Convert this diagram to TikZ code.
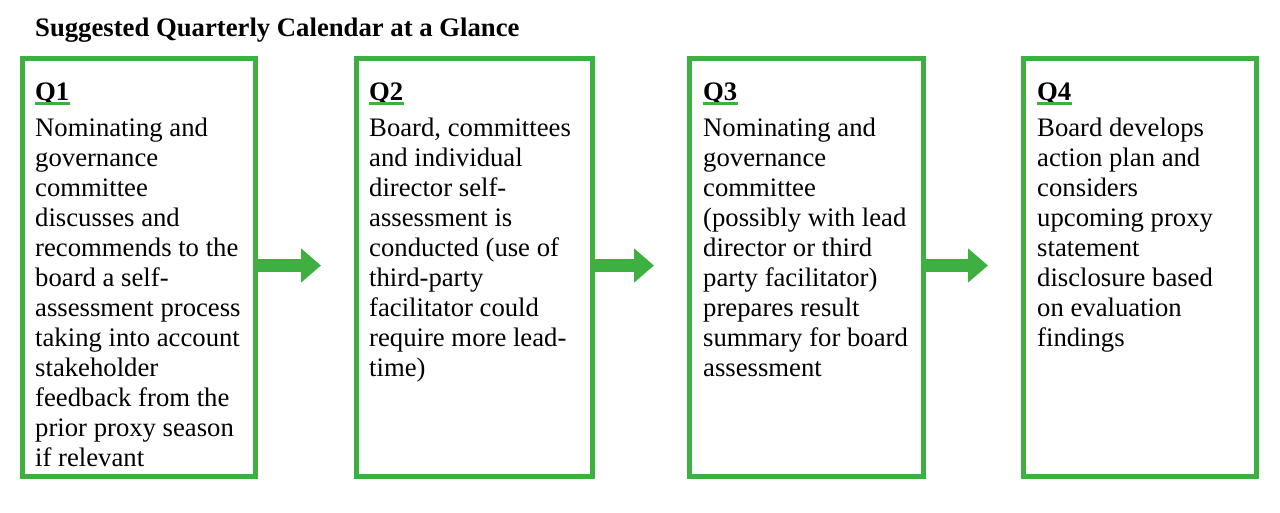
\documentclass[tikz,border=0pt]{standalone}
\usepackage{fontspec}
\setmainfont{Liberation Serif}
\usetikzlibrary{arrows.meta}
\definecolor{qgreen}{RGB}{62,176,65}
\tikzset{
  qbox/.style={draw=qgreen, line width=5pt, minimum height=418pt, inner sep=0pt},
  qhead/.style={anchor=base west, inner sep=0pt, font=\fontsize{26.7}{30}\selectfont\bfseries, text depth=0pt},
  qbody/.style={anchor=north west, inner sep=0pt, align=left, font=\fontsize{26.7}{30}\selectfont},
  qline/.style={draw=qgreen, line width=2.5pt},
  qarrow/.style={draw=qgreen, line width=13pt, shorten >=33pt, -{Triangle[width=33pt,length=20pt,fill=qgreen]}},
}
\begin{document}
\begin{tikzpicture}[x=1pt,y=-1pt]
\useasboundingbox (0,0) rectangle (1280,512);
\node[anchor=base west, inner sep=0pt, font=\fontsize{26.7}{30}\selectfont\bfseries] (title) at (35,36) {Suggested Quarterly Calendar at a Glance};

\node[qbox, minimum width=233pt] (b1) at (139,267.5) {};
\node[qbox, minimum width=236pt] (b2) at (474.5,267.5) {};
\node[qbox, minimum width=234pt] (b3) at (806.5,267.5) {};
\node[qbox, minimum width=233pt] (b4) at (1140,267.5) {};

\node[qhead] (h1) at (35,100) {Q1};
\node[qhead] (h2) at (369,100) {Q2};
\node[qhead] (h3) at (703,100) {Q3};
\node[qhead] (h4) at (1037,100) {Q4};
\foreach \h in {h1,h2,h3,h4}{
  \draw[qline] ([yshift=-3.5pt]\h.base west) -- ([yshift=-3.5pt]\h.base east);
}

\node[qbody] (t1) at (35,117.5) {Nominating and\\governance\\committee\\discusses and\\recommends to the\\board a self-\\assessment process\\taking into account\\stakeholder\\feedback from the\\prior proxy season\\if relevant};
\node[qbody] (t2) at (369,117.5) {Board, committees\\and individual\\director self-\\assessment is\\conducted (use of\\third-party\\facilitator could\\require more lead-\\time)};
\node[qbody] (t3) at (703,117.5) {Nominating and\\governance\\committee\\(possibly with lead\\director or third\\party facilitator)\\prepares result\\summary for board\\assessment};
\node[qbody] (t4) at (1037,117.5) {Board develops\\action plan and\\considers\\upcoming proxy\\statement\\disclosure based\\on evaluation\\findings};

\draw[qarrow] ([yshift=2pt]b1.east) -- ([yshift=2pt]b2.west);
\draw[qarrow] ([yshift=2pt]b2.east) -- ([yshift=2pt]b3.west);
\draw[qarrow] ([yshift=2pt]b3.east) -- ([yshift=2pt]b4.west);
\end{tikzpicture}
\end{document}
